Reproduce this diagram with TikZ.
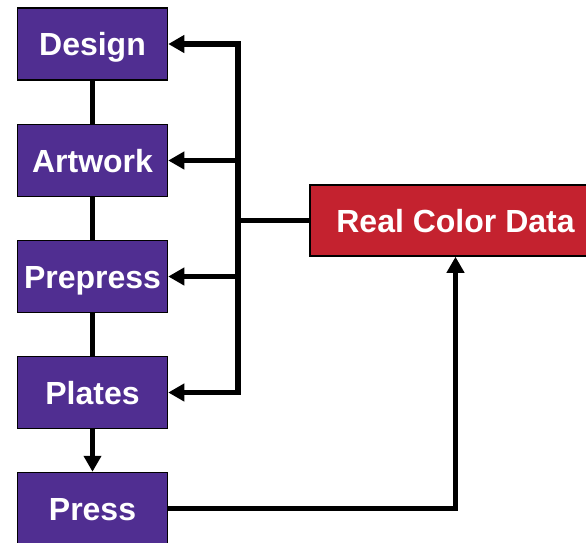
\documentclass[tikz,border=0pt]{standalone}
\usepackage{fontspec}
\setmainfont{Liberation Sans}
\usetikzlibrary{arrows.meta}
\definecolor{boxpurple}{RGB}{80,46,145}
\definecolor{boxred}{RGB}{196,34,47}
\begin{document}
\begin{tikzpicture}[x=1pt,y=-1pt,
  stage/.style={draw=black,line width=1.5pt,fill=boxpurple,text=white,
    font=\fontsize{32}{36}\selectfont\bfseries,minimum width=150pt,minimum height=72pt,inner sep=0pt,
    text height=23pt,text depth=0pt},
  datab/.style={stage,fill=boxred,minimum width=291pt,minimum height=71pt},
  link/.style={line width=5.3pt,draw=black},
  arr/.style={link,-{Triangle[length=16pt,width=17pt]}},
  darr/.style={link,{Triangle[length=16pt,width=17pt]}-{Triangle[length=16pt,width=17pt]}}]
\clip (0,0) rectangle (586,542);
\useasboundingbox (0,0) rectangle (586,542);
\fill[white] (0,0) rectangle (586,542);
\node[stage] (design) at (92.5,44) {Design};
\node[stage] (artwork) at (92.5,160.5) {Artwork};
\node[stage] (prepress) at (92.5,276.5) {Prepress};
\node[stage] (plates) at (92.5,392.5) {Plates};
\node[stage] (press) at (92.5,508.5) {Press};
\node[datab] (rcd) at (455.5,220.5) {Real Color Data};
\coordinate (t1) at (238,44);
\coordinate (t4) at (238,392.5);
\draw[link] (design) -- (artwork);
\draw[link] (artwork) -- (prepress);
\draw[link] (prepress) -- (plates);
\draw[arr] (plates) -- (press);
\draw[darr] (design.east) -- (t1) -- (t4) -- (plates.east);
\draw[arr] (artwork.east -| t1) -- (artwork.east);
\draw[arr] (prepress.east -| t1) -- (prepress.east);
\draw[link] (rcd.west) -- (rcd.west -| t1);
\draw[arr] (press.east) -| (rcd.south);
\end{tikzpicture}
\end{document}
